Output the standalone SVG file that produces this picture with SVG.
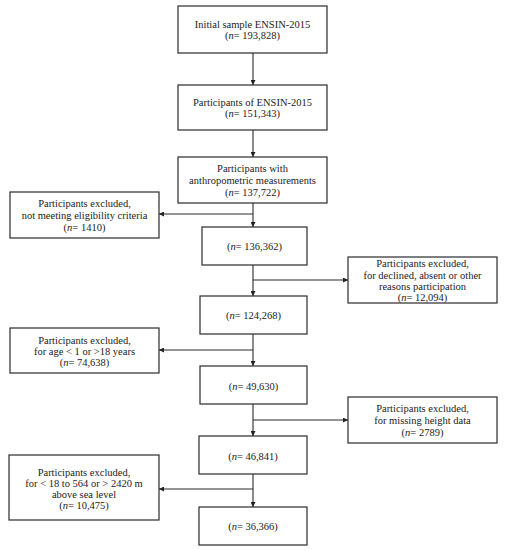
<svg xmlns="http://www.w3.org/2000/svg" width="507" height="550" viewBox="0 0 507 550">
<defs>
<style>
.box{fill:#fff;stroke:#2b2b2b;stroke-width:1.2}
text{font-family:"Liberation Serif","Times New Roman",serif;font-size:10.5px;fill:#222;text-anchor:middle}
.i{font-style:italic}
.c{fill:none;stroke:#2b2b2b;stroke-width:1.1}
</style>
<marker id="ah" viewBox="0 0 10 10" refX="10" refY="5" markerWidth="5" markerHeight="5" orient="auto" markerUnits="userSpaceOnUse">
<path d="M0,0 L10,5 L0,10 z" fill="#222"/>
</marker>
</defs>
<rect width="507" height="550" fill="#fff"/>
<g id="connectors">
<line class="c" x1="253" y1="53" x2="253" y2="85" marker-end="url(#ah)"/>
<line class="c" x1="253" y1="130" x2="253" y2="157" marker-end="url(#ah)"/>
<line class="c" x1="253" y1="203" x2="253" y2="227" marker-end="url(#ah)"/>
<line class="c" x1="253" y1="214" x2="159" y2="214" marker-end="url(#ah)"/>
<line class="c" x1="253" y1="265" x2="253" y2="296" marker-end="url(#ah)"/>
<line class="c" x1="253" y1="280" x2="348" y2="280" marker-end="url(#ah)"/>
<line class="c" x1="253" y1="334" x2="253" y2="366" marker-end="url(#ah)"/>
<line class="c" x1="253" y1="350" x2="159" y2="350" marker-end="url(#ah)"/>
<line class="c" x1="253" y1="404" x2="253" y2="436" marker-end="url(#ah)"/>
<line class="c" x1="253" y1="420" x2="348" y2="420" marker-end="url(#ah)"/>
<line class="c" x1="253" y1="474" x2="253" y2="507" marker-end="url(#ah)"/>
<line class="c" x1="253" y1="489" x2="159" y2="489" marker-end="url(#ah)"/>
</g>
<g id="n1"><rect class="box" x="178" y="6" width="149" height="47"/>
<text x="252.5" y="28">Initial sample ENSIN-2015</text>
<text x="252.5" y="39">(<tspan class="i">n</tspan>= 193,828)</text></g>
<g id="n2"><rect class="box" x="178" y="85" width="149" height="45"/>
<text x="252.5" y="106">Participants of ENSIN-2015</text>
<text x="252.5" y="117">(<tspan class="i">n</tspan>= 151,343)</text></g>
<g id="n3"><rect class="box" x="178" y="157" width="149" height="46"/>
<text x="252.5" y="172">Participants with</text>
<text x="252.5" y="184">anthropometric measurements</text>
<text x="252.5" y="196">(<tspan class="i">n</tspan>= 137,722)</text></g>
<g id="x1"><rect class="box" x="10" y="192" width="149" height="46"/>
<text x="84.5" y="207">Participants excluded,</text>
<text x="84.5" y="219">not meeting eligibility criteria</text>
<text x="84.5" y="231">(<tspan class="i">n</tspan>= 1410)</text></g>
<g id="n4"><rect class="box" x="202" y="227" width="105" height="38"/>
<text x="254.5" y="250">(<tspan class="i">n</tspan>= 136,362)</text></g>
<g id="x2"><rect class="box" x="348" y="257" width="149" height="46"/>
<text x="422.5" y="267">Participants excluded,</text>
<text x="422.5" y="279">for declined, absent or other</text>
<text x="422.5" y="290">reasons participation</text>
<text x="422.5" y="301">(<tspan class="i">n</tspan>= 12,094)</text></g>
<g id="n5"><rect class="box" x="200" y="296" width="107" height="38"/>
<text x="253.5" y="319">(<tspan class="i">n</tspan>= 124,268)</text></g>
<g id="x3"><rect class="box" x="10" y="328" width="149" height="45"/>
<text x="84.5" y="344">Participants excluded,</text>
<text x="84.5" y="355">for age &lt; 1 or &gt;18 years</text>
<text x="84.5" y="366">(<tspan class="i">n</tspan>= 74,638)</text></g>
<g id="n6"><rect class="box" x="200" y="366" width="107" height="38"/>
<text x="253.5" y="390">(<tspan class="i">n</tspan>= 49,630)</text></g>
<g id="x4"><rect class="box" x="348" y="397" width="149" height="46"/>
<text x="422.5" y="412">Participants excluded,</text>
<text x="422.5" y="424">for missing height data</text>
<text x="422.5" y="436">(<tspan class="i">n</tspan>= 2789)</text></g>
<g id="n7"><rect class="box" x="199" y="436" width="108" height="38"/>
<text x="253" y="460">(<tspan class="i">n</tspan>= 46,841)</text></g>
<g id="x5"><rect class="box" x="9" y="455" width="150" height="65"/>
<text x="84" y="476">Participants excluded,</text>
<text x="84" y="487">for &lt; 18 to 564 or  &gt; 2420 m</text>
<text x="84" y="498">above sea level</text>
<text x="84" y="509">(<tspan class="i">n</tspan>= 10,475)</text></g>
<g id="n8"><rect class="box" x="199" y="507" width="108" height="38"/>
<text x="253" y="530">(<tspan class="i">n</tspan>= 36,366)</text></g>
</svg>
